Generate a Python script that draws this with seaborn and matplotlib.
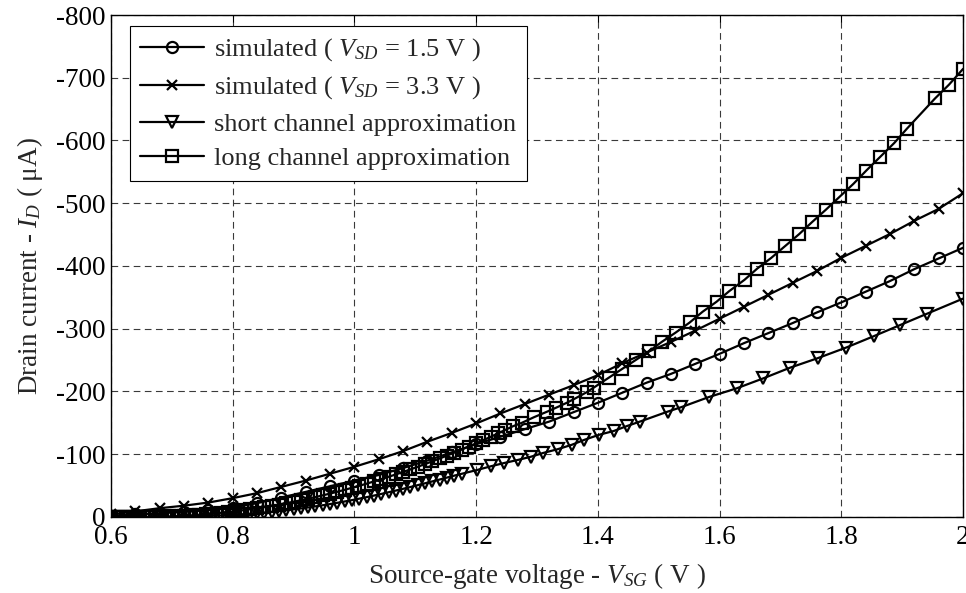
import matplotlib
matplotlib.use("Agg")
import matplotlib.pyplot as plt
import seaborn as sns

# simulated curves, one point every 40 mV
vsg_sim = [0.60, 0.64, 0.68, 0.72, 0.76, 0.80, 0.84, 0.88, 0.92, 0.96,
           1.00, 1.04, 1.08, 1.12, 1.16, 1.20, 1.24, 1.28, 1.32, 1.36,
           1.40, 1.44, 1.48, 1.52, 1.56, 1.60, 1.64, 1.68, 1.72, 1.76,
           1.80, 1.84, 1.88, 1.92, 1.96, 2.00]
id_sim_15 = [-2, -4, -6, -8, -11, -15, -22, -31, -40, -49,
             -58, -67, -78, -90, -103, -116, -128, -140, -152, -167,
             -182, -198, -214, -228, -244, -260, -277, -293, -309, -326,
             -342, -359, -376, -395, -412, -429]
id_sim_33 = [-4, -9, -14, -18, -23, -30, -38, -48, -58, -69,
             -80, -92, -105, -120, -134, -149, -165, -180, -195, -210,
             -226, -245, -262, -279, -297, -316, -335, -354, -373, -392,
             -413, -432, -451, -472, -491, -516]

# short channel approximation
vsg_short = [0.600, 0.612, 0.624, 0.636, 0.648, 0.660, 0.672, 0.684, 0.696, 0.708,
             0.720, 0.732, 0.744, 0.756, 0.768, 0.780, 0.792, 0.804, 0.816, 0.828,
             0.840, 0.852, 0.864, 0.876, 0.888, 0.900, 0.912, 0.924, 0.936, 0.948,
             0.960, 0.972, 0.984, 0.996, 1.008, 1.020, 1.032, 1.044, 1.056, 1.068,
             1.080, 1.092, 1.104, 1.116, 1.128, 1.140, 1.152, 1.164, 1.177, 1.202,
             1.225, 1.246, 1.269, 1.290, 1.310, 1.334, 1.357, 1.378, 1.402, 1.426,
             1.448, 1.469, 1.515, 1.537, 1.582, 1.628, 1.672, 1.716, 1.761, 1.808,
             1.853, 1.897, 1.941, 2.000]
id_short = [0, 0, 0, 0, 0, 0, 0, 0, -0.1, -0.2,
            -0.4, -0.7, -1.0, -1.4, -1.9, -2.4, -3.0, -3.7, -4.4, -5.2,
            -6.1, -7.1, -8.2, -9.4, -10.7, -12.1, -13.6, -15.2, -16.9, -18.7,
            -20.6, -22.6, -24.7, -26.9, -29.2, -31.6, -34.1, -36.7, -39.4, -42.1,
            -44.9, -47.8, -50.7, -53.7, -56.7, -59.7, -62.8, -65.9, -69, -75,
            -81, -86, -91, -96, -102, -108, -115, -123, -131, -137,
            -145, -152, -168, -175, -191, -205, -221, -238, -253, -270,
            -288, -306, -324, -348]

# long channel approximation
vsg_long = [0.600, 0.612, 0.624, 0.636, 0.648, 0.660, 0.672, 0.684, 0.696, 0.708,
            0.720, 0.732, 0.744, 0.756, 0.768, 0.780, 0.792, 0.804, 0.816, 0.828,
            0.840, 0.852, 0.864, 0.876, 0.888, 0.900, 0.912, 0.924, 0.936, 0.948,
            0.960, 0.972, 0.984, 0.996, 1.008, 1.020, 1.032, 1.044, 1.056, 1.068,
            1.080, 1.092, 1.104, 1.116, 1.128, 1.140, 1.152, 1.164, 1.176, 1.188,
            1.200, 1.212, 1.224, 1.236, 1.248, 1.260, 1.275, 1.295, 1.317, 1.331,
            1.349, 1.361, 1.382, 1.393, 1.418, 1.440, 1.462, 1.484, 1.505, 1.528,
            1.551, 1.572, 1.595, 1.616, 1.641, 1.662, 1.685, 1.708, 1.731, 1.752,
            1.775, 1.798, 1.820, 1.841, 1.864, 1.887, 1.908, 1.954, 1.977, 2.000]
id_long = [0, 0, 0, 0, 0, -0.04, -0.2, -0.45, -0.8, -1.3,
           -1.9, -2.6, -3.4, -4.4, -5.4, -6.6, -7.8, -9.2, -10.7, -12.3,
           -14.0, -15.8, -17.8, -19.8, -22.0, -24.3, -26.6, -29.1, -31.7, -34.5,
           -37.3, -40.2, -43.3, -46.5, -49.7, -53.1, -56.6, -60.2, -64.0, -67.8,
           -71.8, -75.8, -80.0, -84.3, -88.7, -93.2, -97.8, -102.5, -107.4, -112.3,
           -117.4, -122.6, -127.8, -133.3, -138.8, -144.4, -150, -159, -168, -174,
           -182, -188, -199, -206, -222, -236, -250, -264, -279, -294,
           -310, -327, -343, -360, -378, -396, -413, -432, -451, -470,
           -490, -511, -531, -552, -574, -596, -619, -667, -689, -714]

labels = ["simulated ( $V_{SD}$ = 1.5 V )",
          "simulated ( $V_{SD}$ = 3.3 V )",
          "short channel approximation",
          "long channel approximation"]

sns.set_style("white")
plt.rcParams['font.family'] = ['Liberation Serif', 'DejaVu Serif']
plt.rcParams['mathtext.fontset'] = 'custom'
plt.rcParams['mathtext.rm'] = 'Liberation Serif'
plt.rcParams['mathtext.it'] = 'Liberation Serif:italic'
plt.rcParams['axes.unicode_minus'] = False

fs = 19.5
fig = plt.figure(figsize=(9.66, 5.93), dpi=100)
ax = fig.add_axes([0.1149, 0.1282, 0.8820, 0.8465])

common = dict(ax=ax, color='k', lw=1.6, mec='k', mew=1.6, mfc='none',
              estimator=None, sort=False)
sns.lineplot(x=vsg_sim, y=id_sim_15, marker='o', markersize=8, label=labels[0], **common)
sns.lineplot(x=vsg_sim, y=id_sim_33, marker='x', markersize=7, label=labels[1], **common)
sns.lineplot(x=vsg_short, y=id_short, marker='v', markersize=9, label=labels[2], **common)
sns.lineplot(x=vsg_long, y=id_long, marker='s', markersize=8.5, label=labels[3], **common)

ax.set_xlim(0.6, 2.0)
ax.set_ylim(0, -800)
ax.set_xticks([0.6, 0.8, 1.0, 1.2, 1.4, 1.6, 1.8, 2.0])
ax.set_xticklabels(["0.6", "0.8", "1", "1.2", "1.4", "1.6", "1.8", "2"])
ax.set_yticks(range(0, -801, -100))

ax.grid(True, color='#3a3a3a', linestyle=(0, (6, 4)), linewidth=0.8)
ax.set_axisbelow(True)
for s in ax.spines.values():
    s.set_color('k')
    s.set_linewidth(1.0)
ax.tick_params(direction='in', top=True, right=True, length=5, width=0.8,
               labelsize=fs, colors='k')
ax.tick_params(axis='x', pad=6)
ax.tick_params(axis='y', pad=4)

ax.set_xlabel("Source-gate voltage - $V_{SG}$ ( V )", fontsize=fs, labelpad=8)
ax.set_ylabel("Drain current - $I_D$ ( μA)", fontsize=fs, labelpad=8)

leg = ax.legend(loc='upper left', bbox_to_anchor=(0.022, 0.978), borderaxespad=0,
                fancybox=False, edgecolor='k', framealpha=1, fontsize=19,
                handlelength=2.4, labelspacing=0.42, borderpad=0.4,
                handletextpad=0.4)
leg.get_frame().set_linewidth(0.8)

fig.savefig("out.png", dpi=100)
